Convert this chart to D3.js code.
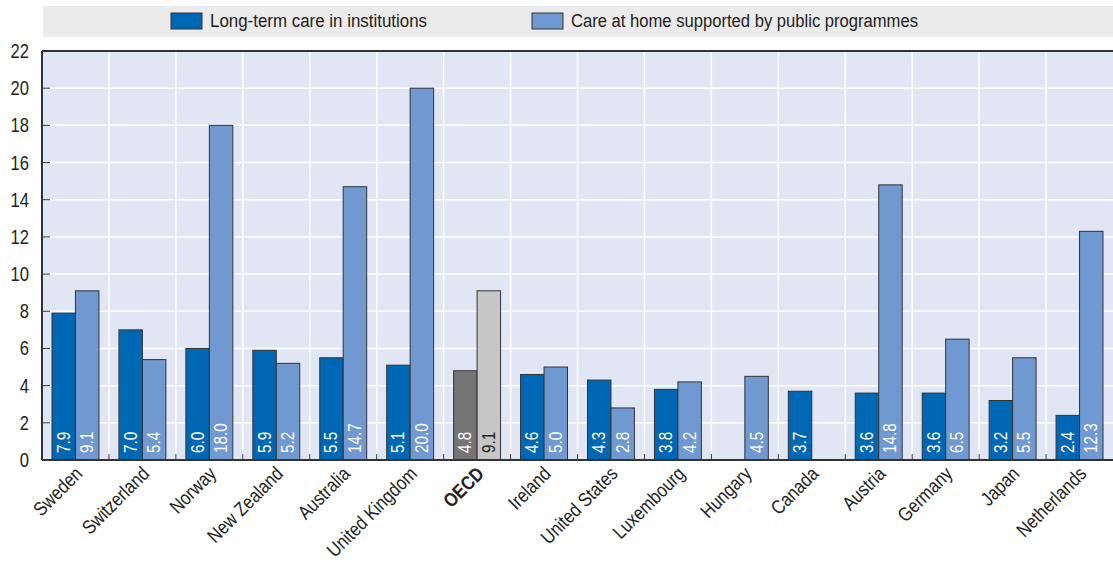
<!DOCTYPE html>
<html>
<head>
<meta charset="utf-8">
<script src="https://cdn.jsdelivr.net/npm/d3@7"></script>
<style>
body { margin: 0; background: #fff; }
text { font-family: "Liberation Sans", Arial, sans-serif; }
</style>
</head>
<body>
<script>
var Width = 1113;
var Height = 562;

var countries = ["Sweden", "Switzerland", "Norway", "New Zealand", "Australia", "United Kingdom", "OECD",
	"Ireland", "United States", "Luxembourg", "Hungary", "Canada", "Austria", "Germany", "Japan", "Netherlands"];
var institutions = [7.9, 7.0, 6.0, 5.9, 5.5, 5.1, 4.8, 4.6, 4.3, 3.8, null, 3.7, 3.6, 3.6, 3.2, 2.4];
var atHome = [9.1, 5.4, 18.0, 5.2, 14.7, 20.0, 9.1, 5.0, 2.8, 4.2, 4.5, null, 14.8, 6.5, 5.5, 12.3];
var seriesNames = ["Long-term care in institutions", "Care at home supported by public programmes"];
var yTicks = [0, 2, 4, 6, 8, 10, 12, 14, 16, 18, 20, 22];

var colDark = "#0067b4", colLight = "#7099d2";
var oecdDark = "#747474", oecdLight = "#c6c6c6";
var narrow = 0.85; // squeeze Liberation Sans to look like a narrow face

var margin = { left: 42, right: 0, top: 51, bottom: 102 };

var svg = d3.select("body").append("svg")
	.attr("width", Width)
	.attr("height", Height);

function label(px, py, rot, str) {
	return svg.append("text")
		.attr("transform", "translate(" + px + "," + py + ") rotate(" + rot + ") scale(" + narrow + ",1)")
		.text(str);
}

// legend
svg.append("rect").attr("x", 43).attr("y", 6).attr("width", Width - 43).attr("height", 31).attr("fill", "#ebebeb");
var legendX = [171, 532];
var legendW = [217, 347];
seriesNames.forEach(function (name, i) {
	svg.append("rect").attr("x", legendX[i]).attr("y", 13).attr("width", 31).attr("height", 16)
		.attr("fill", i == 0 ? colDark : colLight).attr("stroke", "#333").attr("stroke-width", 1);
	svg.append("text").attr("x", legendX[i] + 39).attr("y", 27)
		.attr("font-size", 18).attr("fill", "#222")
		.attr("textLength", legendW[i]).attr("lengthAdjust", "spacingAndGlyphs")
		.text(name);
});

var x = d3.scaleBand().domain(countries).range([margin.left, Width - margin.right]);
var y = d3.scaleLinear().domain([0, 22]).range([Height - margin.bottom, margin.top]);

var plot = svg.append("g");
plot.append("rect").attr("x", margin.left).attr("y", margin.top)
	.attr("width", Width - margin.left - margin.right).attr("height", y(0) - margin.top)
	.attr("fill", "#e0e6f4");

// grid
plot.selectAll(".hg").data(yTicks.slice(1, -1)).enter().append("line")
	.attr("x1", margin.left).attr("x2", Width).attr("y1", d => y(d)).attr("y2", d => y(d))
	.attr("stroke", "#fff").attr("stroke-width", 1.5);
plot.selectAll(".vg").data(countries.slice(1)).enter().append("line")
	.attr("x1", d => x(d)).attr("x2", d => x(d)).attr("y1", margin.top).attr("y2", y(0))
	.attr("stroke", "#fff").attr("stroke-width", 1.5);

// bars
var pad = 10;
var bw = (x.bandwidth() - 2 * pad) / 2;
var rows = countries.map(function (c, i) { return { c: c, v: [institutions[i], atHome[i]] }; });

rows.forEach(function (r) {
	r.v.forEach(function (v, k) {
		if (v == null) return;
		var isO = r.c == "OECD";
		var fill = k == 0 ? (isO ? oecdDark : colDark) : (isO ? oecdLight : colLight);
		var bx = x(r.c) + pad + k * bw;
		svg.append("rect").attr("x", bx).attr("y", y(v)).attr("width", bw).attr("height", y(0) - y(v))
			.attr("fill", fill).attr("stroke", "#333").attr("stroke-width", 1);
		label(bx + bw / 2 + 6, y(0) - 7, -90, v.toFixed(1))
			.attr("font-size", 18).attr("fill", (isO && k == 1) ? "#222" : "#fff");
	});
});

// axes lines
svg.append("line").attr("x1", margin.left).attr("x2", Width).attr("y1", margin.top).attr("y2", margin.top)
	.attr("stroke", "#333").attr("stroke-width", 2);
svg.append("line").attr("x1", margin.left).attr("x2", Width).attr("y1", y(0)).attr("y2", y(0))
	.attr("stroke", "#333").attr("stroke-width", 2);
svg.append("line").attr("x1", margin.left).attr("x2", margin.left).attr("y1", margin.top).attr("y2", y(0))
	.attr("stroke", "#333").attr("stroke-width", 2);

// y ticks
yTicks.forEach(function (t) {
	if (t > 0 && t < 22) {
		svg.append("line").attr("x1", margin.left).attr("x2", margin.left + 8).attr("y1", y(t)).attr("y2", y(t))
			.attr("stroke", "#333").attr("stroke-width", 1);
	}
	label(29, y(t) + 7, 0, t).attr("text-anchor", "end")
		.attr("font-size", 19.5).attr("fill", "#222");
});

// x ticks at boundaries
countries.slice(1).forEach(function (c) {
	svg.append("line").attr("x1", x(c)).attr("x2", x(c)).attr("y1", y(0)).attr("y2", y(0) - 6)
		.attr("stroke", "#333").attr("stroke-width", 1);
});

// x labels
countries.forEach(function (c) {
	var cx = x(c) + x.bandwidth() / 2 + 8;
	label(cx, y(0) + 15, -45, c)
		.attr("text-anchor", "end").attr("font-size", 19.5).attr("fill", "#222")
		.attr("font-weight", c == "OECD" ? "bold" : "normal");
});
</script>
</body>
</html>
